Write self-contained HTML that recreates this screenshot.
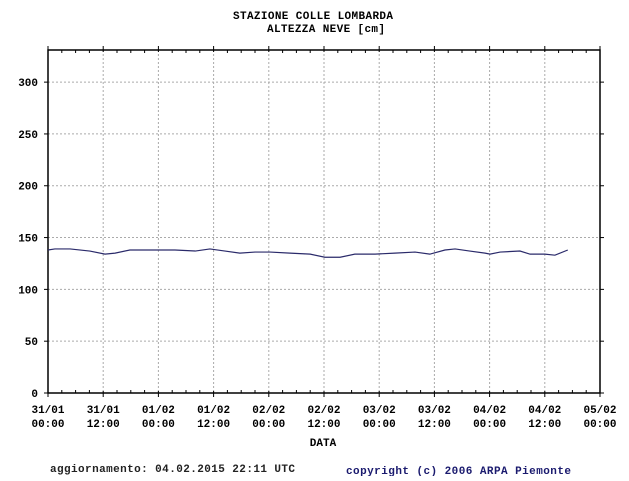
<!DOCTYPE html>
<html><head><meta charset="utf-8"><style>
body{margin:0;background:#fff;width:629px;height:476px;overflow:hidden}
svg text{font-family:"Liberation Mono",monospace;font-weight:bold;font-size:11px}
</style></head><body>
<svg id="c" width="629" height="476" xmlns="http://www.w3.org/2000/svg">
<text x="233" y="19" textLength="160" fill="#000">STAZIONE COLLE LOMBARDA</text>
<text x="267" y="32" textLength="118" fill="#000">ALTEZZA NEVE [cm]</text>
<g id="grid"></g><g id="axes"></g><g id="series"></g>
<text x="323" y="446" text-anchor="middle" fill="#000">DATA</text>
<text x="50" y="472" textLength="245" fill="#222">aggiornamento: 04.02.2015 22:11 UTC</text>
<text x="346" y="474" textLength="225" fill="#1a1a6e">copyright (c) 2006 ARPA Piemonte</text>
</svg>
<script>
const hours=[0,1.5,4.8,9.1,12.4,14.6,17.8,22.2,27.6,32,35.2,38.5,41.7,45,48.3,52.6,57,60.2,63.5,66.7,71.1,75.4,79.8,83,86.3,88.5,91.7,95,96.1,98.3,102.6,104.8,108,110.2,113];
const depth=[138,139,139,137,134,135,138,138,138,137,139,137,135,136,136,135,134,131,131,134,134,135,136,134,138,139,137,135,134,136,137,134,134,133,138];
const yTicks=[0,50,100,150,200,250,300];
const xDates=["31/01","31/01","01/02","01/02","02/02","02/02","03/02","03/02","04/02","04/02","05/02"];
const xTimes=["00:00","12:00","00:00","12:00","00:00","12:00","00:00","12:00","00:00","12:00","00:00"];
const X0=48,X1=600,Y0=393,Y1=50,HMAX=120,VMAX=331;
const xs=h=>X0+h/HMAX*(X1-X0), ys=v=>Y0-v/VMAX*(Y0-Y1);
const NS="http://www.w3.org/2000/svg";
function mk(t,a,p){const e=document.createElementNS(NS,t);for(const k in a)e.setAttribute(k,a[k]);p.appendChild(e);return e;}
const grid=document.getElementById('grid'),axes=document.getElementById('axes'),ser=document.getElementById('series');
yTicks.forEach(v=>{const y=ys(v);
 if(v>0){const l=mk('line',{x1:X0,x2:X1,y1:y,y2:y,stroke:'#aaa','stroke-dasharray':'2,2'},grid);
 }
 mk('line',{x1:X0-4,x2:X0,y1:y,y2:y,stroke:'#000'},axes);
 mk('line',{x1:X1,x2:X1+4,y1:y,y2:y,stroke:'#000'},axes);
 const tx=mk('text',{x:X0-10,y:y+4,'text-anchor':'end',fill:'#000'},axes);tx.textContent=v;
 
 
});
xDates.forEach((d,i)=>{const x=xs(i*12);
 if(i>0&&i<xDates.length-1){const l=mk('line',{x1:x,x2:x,y1:Y1,y2:Y0,stroke:'#aaa','stroke-dasharray':'2,2'},grid);
 }
 mk('line',{x1:x,x2:x,y1:Y1-4,y2:Y1+2,stroke:'#000'},axes);
 mk('line',{x1:x,x2:x,y1:Y0-2,y2:Y0+4,stroke:'#000'},axes);
 const a=mk('text',{x:x,y:413,'text-anchor':'middle',fill:'#000'},axes);a.textContent=d;
 
 
 const b=mk('text',{x:x,y:427,'text-anchor':'middle',fill:'#000'},axes);b.textContent=xTimes[i];
 
 
 if(i<xDates.length-1)for(let k=1;k<4;k++){const xm=xs(i*12+k*3);
  mk('line',{x1:xm,x2:xm,y1:Y1,y2:Y1+3,stroke:'#000'},axes);
  mk('line',{x1:xm,x2:xm,y1:Y0-3,y2:Y0,stroke:'#000'},axes);}
});
const fr=mk('rect',{x:X0,y:Y1,width:X1-X0,height:Y0-Y1,fill:'none',stroke:'#000','stroke-width':1.5},axes);


const line=mk('polyline',{points:hours.map((h,i)=>xs(h)+','+ys(depth[i])).join(' '),fill:'none',stroke:'#2a2a6a','stroke-width':1.2},ser);


</script>
</body></html>
